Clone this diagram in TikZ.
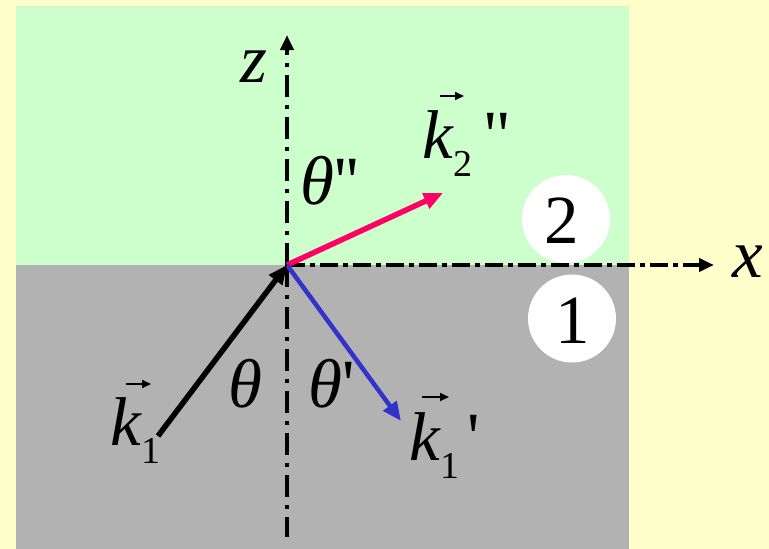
\documentclass[tikz,border=0pt]{standalone}
\usepackage{fontspec}
\setmainfont{Liberation Serif}
\newfontfamily\qfont{Liberation Serif}
\usetikzlibrary{arrows.meta}
\definecolor{bgyellow}{HTML}{FFFFCC}
\definecolor{mgreen}{HTML}{CCFFCC}
\definecolor{mgray}{HTML}{B2B2B2}
\definecolor{kred}{HTML}{FF0066}
\definecolor{kblue}{HTML}{3333CC}
\newcommand{\subfont}{\fontsize{38}{38}\selectfont}
\newcommand{\sq}{{\qfont\symbol{39}}}
\begin{document}
\begin{tikzpicture}[x=1pt,y=-1pt,
  lbl/.style={inner sep=0pt,font=\fontsize{69}{70}\selectfont,anchor=base west},
  axisline/.style={line width=4.5pt,-{Triangle[length=15pt,width=13pt]}},
  wave/.style={line width=5.5pt,-{Triangle[length=19pt,width=16pt]}},
  vecarr/.style={line width=2pt,-{Triangle[length=9pt,width=8pt]}},
  regioncircle/.style={circle,fill=white,minimum size=88pt,inner sep=0pt}]
\useasboundingbox (0,0) rectangle (769,549);
\fill[bgyellow] (0,0) rectangle (769,549);
\fill[mgreen] (16,6) rectangle (629,265);
\fill[mgray] (16,265) rectangle (629,549);
\coordinate (O) at (287,265);
\coordinate (ztip) at (287,35);
\coordinate (zbot) at (287,537);
\coordinate (xtip) at (714,265);
\coordinate (k1tail) at (158,436);
\coordinate (k2end) at (443,193);
\coordinate (k1pend) at (401,421);
% axes
\draw[axisline,dash pattern=on 22pt off 8pt on 4pt off 8pt] (O) -- (ztip);
\draw[line width=4.5pt,dash pattern=on 22pt off 8pt on 4pt off 8pt] (O) -- (zbot);
\draw[axisline,dash pattern=on 18pt off 5pt on 5pt off 5pt] (O) -- (xtip);
% waves
\draw[wave,kred] (O) -- (k2end);
\draw[wave,kblue,line width=4.5pt] (O) -- (k1pend);
\draw[wave,black] (k1tail) -- (O);
% region circles
\node[regioncircle] (c2) at (566,219) {};
\node[regioncircle] (c1) at (572,318.5) {};
\node[lbl] (n2) at (544,243) {2};
\node[lbl] (n1) at (555,343) {1};
% labels
\node[lbl] (zl) at (240,82) {\itshape z};
\node[lbl] (xl) at (732,277) {\itshape x};
\node[lbl] (th) at (228,407) {\itshape θ};
\node[lbl] (thp) at (308,407) {\textit{θ}\sq};
\node[lbl] (thpp) at (300,204) {\textit{θ}\sq\sq};
\node[lbl] (k1l) at (110,445) {\textit{k}\raisebox{-18pt}{\subfont 1}};
\node[lbl] (k1pl) at (409,460) {\textit{k}\raisebox{-18pt}{\subfont 1}\hspace{8pt}\sq};
\node[lbl] (k2l) at (422,158) {\textit{k}\raisebox{-18pt}{\subfont 2}\hspace{12pt}\sq\sq};
% vector arrows over k
\draw[vecarr] ([shift={(16pt,61pt)}]k1l.base west) -- ++(25pt,0pt);
\draw[vecarr] ([shift={(13pt,63pt)}]k1pl.base west) -- ++(27pt,0pt);
\draw[vecarr] ([shift={(18pt,62pt)}]k2l.base west) -- ++(24pt,0pt);
\end{tikzpicture}
\end{document}
